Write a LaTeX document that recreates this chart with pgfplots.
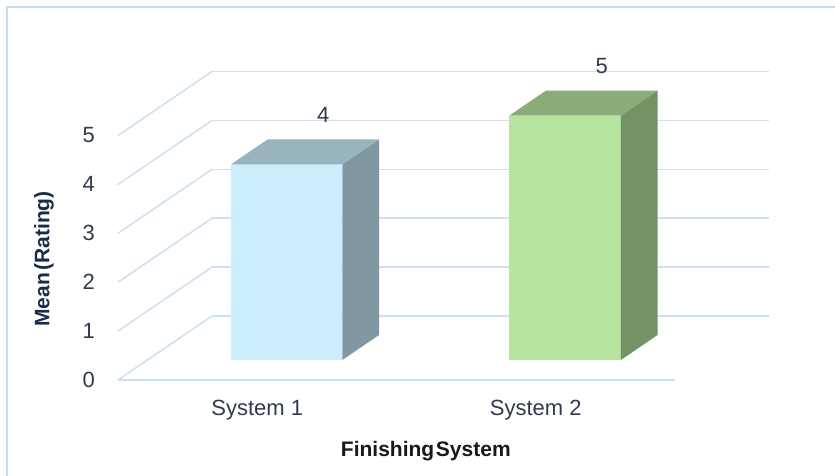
\documentclass[border=0pt]{standalone}
\usepackage{pgfplots}
\pgfplotsset{compat=1.18}
\usepackage{fontspec}
\setmainfont{Liberation Sans}
\definecolor{gridc}{HTML}{D0E0F4}
\definecolor{framec}{HTML}{CADDF4}
\definecolor{tickc}{HTML}{2F3B4E}
\definecolor{titlec}{HTML}{1B2C48}
\definecolor{aFront}{HTML}{CCEEFC}
\definecolor{aTop}{HTML}{98B4BE}
\definecolor{aSide}{HTML}{8197A1}
\definecolor{bFront}{HTML}{B6E3A0}
\definecolor{bTop}{HTML}{89AC79}
\definecolor{bSide}{HTML}{739265}
\begin{document}
\begin{tikzpicture}
\begin{axis}[
  x={(278.5pt,0pt)}, y={(94pt,64pt)}, z={(0pt,48.9pt)},
  xmin=0.5, xmax=2.5, ymin=0, ymax=1, zmin=0, zmax=5,
  hide axis, clip=false,
  every axis plot/.append style={line join=round},
]
% walls
\pgfplotsinvokeforeach{0,1,2,3,4,5}{
  \addplot3[gridc, line width=1.6pt, mark=none] coordinates {(0.5,1,#1) (2.5,1,#1)};
  \addplot3[gridc, line width=1.6pt, mark=none] coordinates {(0.5,0,#1) (0.5,1,#1)};
}
\addplot3[gridc, line width=1.6pt, mark=none] coordinates {(0.5,0,0) (2.5,0,0)};
% bar 1 (System 1, value 4)
\addplot3[fill=aFront, draw=none, mark=none] coordinates {(0.8,0.3125,0) (1.2,0.3125,0) (1.2,0.3125,4) (0.8,0.3125,4)};
\addplot3[fill=aSide, draw=none, mark=none] coordinates {(1.2,0.3125,0) (1.2,0.703,0) (1.2,0.703,4) (1.2,0.3125,4)};
\addplot3[fill=aTop, draw=none, mark=none] coordinates {(0.8,0.3125,4) (1.2,0.3125,4) (1.2,0.703,4) (0.8,0.703,4)};
% bar 2 (System 2, value 5)
\addplot3[fill=bFront, draw=none, mark=none] coordinates {(1.8,0.3125,0) (2.2,0.3125,0) (2.2,0.3125,5) (1.8,0.3125,5)};
\addplot3[fill=bSide, draw=none, mark=none] coordinates {(2.2,0.3125,0) (2.2,0.703,0) (2.2,0.703,5) (2.2,0.3125,5)};
\addplot3[fill=bTop, draw=none, mark=none] coordinates {(1.8,0.3125,5) (2.2,0.3125,5) (2.2,0.703,5) (1.8,0.703,5)};
% value labels
\addplot3[draw=none, mark=none, point meta=explicit symbolic, nodes near coords,
  nodes near coords style={anchor=center, yshift=24pt, font=\fontsize{22}{25}\selectfont, text=tickc, inner sep=0pt}]
  coordinates {(1,0.703,4) [4] (2,0.703,5) [5]};
% tick labels
\pgfplotsinvokeforeach{0,1,2,3,4,5}{
  \node[anchor=east, inner sep=0pt, xshift=-23pt, font=\fontsize{22}{25}\selectfont, text=tickc] at (axis cs:0.5,0,#1) {#1};
}
\node[anchor=center, inner sep=0pt, yshift=-30pt, font=\fontsize{22}{25}\selectfont, text=tickc] at (axis cs:1,0,0) {System 1};
\node[anchor=center, inner sep=0pt, yshift=-30pt, font=\fontsize{22}{25}\selectfont, text=tickc] at (axis cs:2,0,0) {System 2};
\coordinate (O) at (axis cs:0.5,0,0);
\end{axis}
% titles
\node[anchor=center, inner sep=0pt, font=\bfseries\fontsize{21}{24}\selectfont, text=black!90] at ([shift={(307.8pt,-71pt)}]O) {Finishing\hspace{0.08em}System};
\node[anchor=center, inner sep=0pt, rotate=90, font=\bfseries\fontsize{21}{24}\selectfont, text=titlec] at ([shift={(-74pt,121pt)}]O) {Mean\hspace{0.12em}(Rating)};
% frame
\draw[framec, line width=2.5pt] ([shift={(-111pt,-100pt)}]O) -- ([shift={(-111pt,373pt)}]O) -- ([shift={(725pt,373pt)}]O);
\pgfresetboundingbox
\path[use as bounding box] ([shift={(-118pt,-95pt)}]O) rectangle ([shift={(717pt,380pt)}]O);
\end{tikzpicture}
\end{document}
